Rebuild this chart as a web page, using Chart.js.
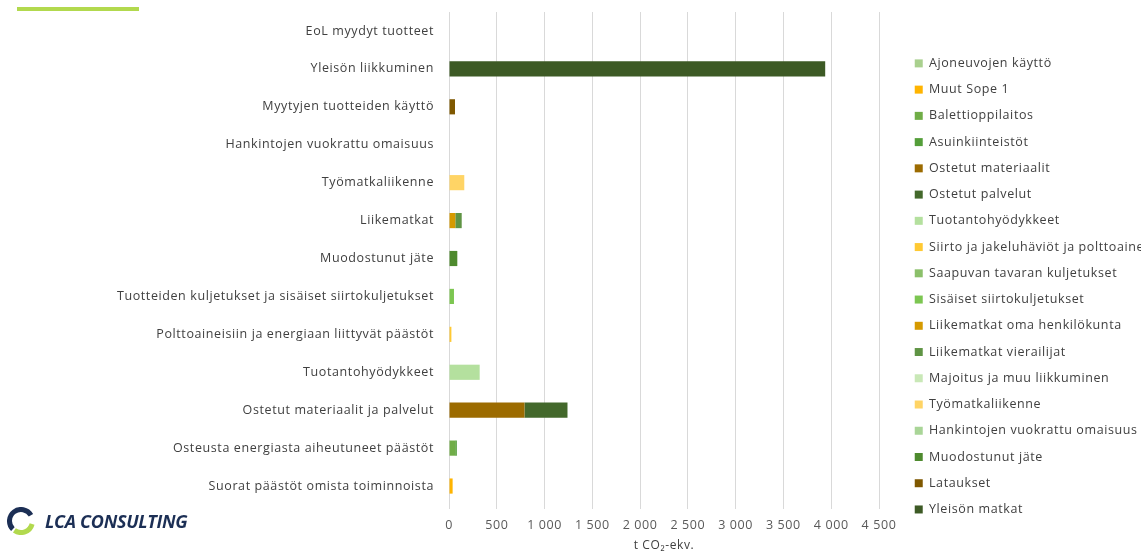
<!DOCTYPE html>
<html lang="fi">
<head>
<meta charset="utf-8">
<title>Päästöt kategorioittain</title>
<script src="https://cdn.jsdelivr.net/npm/chart.js@4/dist/chart.umd.min.js"></script>
<style>
  html, body { margin: 0; padding: 0; background: #fff; }
  #wrap { position: relative; width: 1141px; height: 552px; overflow: hidden; }
  #c { position: absolute; left: 0; top: 0; }
  .accent { position: absolute; left: 17px; top: 7px; width: 122px; height: 4px; background: #B2D94E; }
  .logo { position: absolute; left: 7px; top: 507px; height: 28px; display: flex; align-items: center; }
  .logo span {
    margin-left: 10px; font: italic 700 18px 'Open Sans', sans-serif;
    color: #1C2F55; letter-spacing: -0.3px;
  }
</style>
</head>
<body>
<div id="wrap">
  <canvas id="c" width="1141" height="552"></canvas>
  <div class="accent"></div>
  <div class="logo">
    <svg width="28" height="28" viewBox="0 0 28 28">
      <path d="M5.87 22.13 A11.5 11.5 0 1 1 23.96 8.25" fill="none" stroke="#1C2F55" stroke-width="5"/>
      <path d="M25.11 16.98 A11.5 11.5 0 0 1 7.40 23.42" fill="none" stroke="#B2D94E" stroke-width="5"/>
    </svg>
    <span>LCA CONSULTING</span>
  </div>
</div>
<script>
// kategoriat ylhäältä alas
const categories = [
  'EoL myydyt tuotteet',
  'Yleisön liikkuminen',
  'Myytyjen tuotteiden käyttö',
  'Hankintojen vuokrattu omaisuus',
  'Työmatkaliikenne',
  'Liikematkat',
  'Muodostunut jäte',
  'Tuotteiden kuljetukset ja sisäiset siirtokuljetukset',
  'Polttoaineisiin ja energiaan liittyvät päästöt',
  'Tuotantohyödykkeet',
  'Ostetut materiaalit ja palvelut',
  'Osteusta energiasta aiheutuneet päästöt',
  'Suorat päästöt omista toiminnoista'
]

const xTickLabels = ['0', '500', '1 000', '1 500', '2 000', '2 500', '3 000', '3 500', '4 000', '4 500']

// t CO2-ekv., sama järjestys kuin categories
const ajoneuvojenKaytto      = [0, 0, 0, 0, 0, 0, 0, 0, 0, 0, 0, 0, 0]
const muutSope1              = [0, 0, 0, 0, 0, 0, 0, 0, 0, 0, 0, 0, 38]
const balettioppilaitos      = [0, 0, 0, 0, 0, 0, 0, 0, 0, 0, 0, 65, 0]
const asuinkiinteistot       = [0, 0, 0, 0, 0, 0, 0, 0, 0, 0, 0, 17, 0]
const ostetutMateriaalit     = [0, 0, 0, 0, 0, 0, 0, 0, 0, 0, 790, 0, 0]
const ostetutPalvelut        = [0, 0, 0, 0, 0, 0, 0, 0, 0, 0, 450, 0, 0]
const tuotantohyodykkeet     = [0, 0, 0, 0, 0, 0, 0, 0, 0, 321, 0, 0, 0]
const siirtoJaJakeluhaviot   = [0, 0, 0, 0, 0, 0, 0, 0, 25, 0, 0, 0, 0]
const saapuvanTavaran        = [0, 0, 0, 0, 0, 0, 0, 0, 0, 0, 0, 0, 0]
const sisaisetSiirto         = [0, 0, 0, 0, 0, 0, 0, 52, 0, 0, 0, 0, 0]
const liikematkatOma         = [0, 0, 0, 0, 0, 66, 0, 0, 0, 0, 0, 0, 0]
const liikematkatVierailijat = [0, 0, 0, 0, 0, 67, 0, 0, 0, 0, 0, 0, 0]
const majoitus               = [0, 0, 0, 0, 0, 0, 0, 0, 0, 0, 0, 0, 0]
const tyomatkaliikenne       = [0, 0, 0, 0, 160, 0, 0, 0, 0, 0, 0, 0, 0]
const hankintojenVuokrattu   = [0, 0, 0, 0, 0, 0, 0, 0, 0, 0, 0, 0, 0]
const muodostunutJate        = [0, 0, 0, 0, 0, 0, 87, 0, 0, 0, 0, 0, 0]
const lataukset              = [0, 0, 63, 0, 0, 0, 0, 0, 0, 0, 0, 0, 0]
const yleisonMatkat          = [0, 3937, 0, 0, 0, 0, 0, 0, 0, 0, 0, 0, 0]

const seriesNames = [
  'Ajoneuvojen käyttö', 'Muut Sope 1', 'Balettioppilaitos', 'Asuinkiinteistöt',
  'Ostetut materiaalit', 'Ostetut palvelut', 'Tuotantohyödykkeet',
  'Siirto ja jakeluhäviöt ja polttoaineet', 'Saapuvan tavaran kuljetukset',
  'Sisäiset siirtokuljetukset', 'Liikematkat oma henkilökunta', 'Liikematkat vierailijat',
  'Majoitus ja muu liikkuminen', 'Työmatkaliikenne', 'Hankintojen vuokrattu omaisuus',
  'Muodostunut jäte', 'Lataukset', 'Yleisön matkat'
]
const seriesValues = [
  ajoneuvojenKaytto, muutSope1, balettioppilaitos, asuinkiinteistot,
  ostetutMateriaalit, ostetutPalvelut, tuotantohyodykkeet,
  siirtoJaJakeluhaviot, saapuvanTavaran, sisaisetSiirto, liikematkatOma, liikematkatVierailijat,
  majoitus, tyomatkaliikenne, hankintojenVuokrattu, muodostunutJate, lataukset, yleisonMatkat
]
const seriesColors = [
  '#A9D08E', '#FFB400', '#70AD47', '#549E39',
  '#9C6B00', '#43682B', '#B4E09E',
  '#FFC933', '#8BC06A', '#7CC651', '#D69A00', '#5F9444',
  '#C9E8B7', '#FFD465', '#A9D597', '#4E8A2E', '#7F5800', '#3D5A25'
]

const font = { family: "'Open Sans', sans-serif", size: 12.5 }

// Excelin harvempi kirjainväli kaikkiin teksteihin
const spacingPlugin = {
  id: 'spacing',
  beforeDraw(chart) { chart.ctx.letterSpacing = '0.6px' }
}

new Chart(document.getElementById('c'), {
  type: 'bar',
  plugins: [spacingPlugin],
  data: {
    labels: categories,
    datasets: seriesNames.map((name, i) => ({
      label: name,
      data: seriesValues[i],
      backgroundColor: seriesColors[i],
      borderWidth: 0,
      categoryPercentage: 1,
      barPercentage: 0.4
    }))
  },
  options: {
    indexAxis: 'y',
    responsive: false,
    animation: false,
    layout: { padding: { top: 12, left: 0, right: 0, bottom: 0 } },
    plugins: {
      legend: {
        position: 'right',
        align: 'start',
        maxWidth: 240,
        title: { display: true, text: ' ', font: { size: 12 }, padding: { top: 17, bottom: 0 } },
        labels: { boxWidth: 8, boxHeight: 8, padding: 13.74, color: '#404040', font }
      },
      tooltip: { enabled: false }
    },
    scales: {
      x: {
        stacked: true, min: 0, max: 4500,
        ticks: { stepSize: 500, color: '#595959', font, padding: 9, maxRotation: 0,
          callback: (v, i) => xTickLabels[i] },
        grid: { color: '#D9D9D9', tickLength: 4 },
        border: { display: false },
        title: { display: true, text: 't CO₂-ekv.', color: '#404040', font: { ...font, size: 12 }, padding: { top: 0, bottom: -1 } },
        afterFit(s) { s.height = 47 }
      },
      y: {
        stacked: true,
        grid: { display: false, drawTicks: false },
        border: { display: false },
        ticks: { color: '#404040', font, padding: 15, autoSkip: false },
        afterFit(s) { s.width = 449; s.paddingTop = 0; s.paddingBottom = 0 }
      },
      // tyhjä väli kaavion ja selitteen välissä
      yR: {
        type: 'category', position: 'right',
        grid: { display: false, drawTicks: false },
        border: { display: false },
        ticks: { display: false },
        afterFit(s) { s.width = 22; s.paddingTop = 0; s.paddingBottom = 0 }
      }
    }
  }
})
</script>
</body>
</html>
